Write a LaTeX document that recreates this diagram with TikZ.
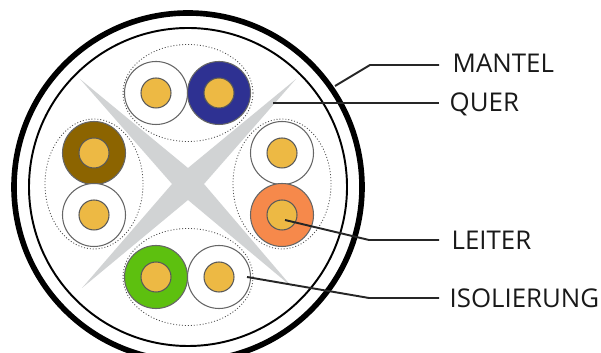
\documentclass[tikz,border=0pt]{standalone}
\usepackage{fontspec}
\setmainfont{Open Sans}
\definecolor{corecol}{HTML}{EDB944}
\definecolor{crosscol}{HTML}{D1D3D4}
\definecolor{bluecol}{HTML}{2E3192}
\definecolor{browncol}{HTML}{8C6400}
\definecolor{orangecol}{HTML}{F6894B}
\definecolor{greencol}{HTML}{5DC00F}
\tikzset{
	wire/.style={circle, draw=black!60, line width=0.3pt, minimum size=0.63cm, inner sep=0, fill=white},
	core/.style={circle, draw=black!65, line width=0.3pt, minimum size=0.3cm, inner sep=0, fill=corecol},
	pair/.style={draw=black!70, line width=0.24pt, dash pattern=on 0.28pt off 0.56pt},
	leader/.style={draw=black!85, line width=0.55pt},
	tag/.style={anchor=west, inner sep=0, font=\fontsize{7.35}{7.35}\selectfont, text=black!90}
}
\begin{document}
\begin{tikzpicture}
	\useasboundingbox (0, 0) rectangle (6.01, -3.53);
	% Mantel
	\begin{scope}
		\clip (0, 0) rectangle (6.01, -3.53);
		\draw[line width=1.6pt] (1.88, -1.87) circle (1.74);
		\draw[line width=0.55pt] (1.88, -1.87) circle (1.59);
	\end{scope}
	% Kreuz
	\fill[crosscol] (0.80, -0.79) -- (1.88, -1.68) -- (2.96, -0.79) -- (2.04, -1.84)
		-- (2.92, -2.87) -- (1.88, -2.00) -- (0.82, -2.88) -- (1.72, -1.84) -- cycle;
	% Paare
	\draw[pair] (1.88, -0.93) ellipse (0.65 and 0.485);
	\draw[pair] (1.88, -2.77) ellipse (0.65 and 0.485);
	\draw[pair] (0.94, -1.84) ellipse (0.49 and 0.65);
	\draw[pair] (2.82, -1.84) ellipse (0.49 and 0.65);
	% Adern
	\node[wire] (wirewhitea) at (1.56, -0.93) {};
	\node[wire, fill=bluecol] (wireblue) at (2.19, -0.93) {};
	\node[wire, fill=browncol] (wirebrown) at (0.94, -1.53) {};
	\node[wire] (wirewhiteb) at (0.94, -2.15) {};
	\node[wire] (wirewhitec) at (2.82, -1.53) {};
	\node[wire, fill=orangecol] (wireorange) at (2.82, -2.15) {};
	\node[wire, fill=greencol] (wiregreen) at (1.56, -2.77) {};
	\node[wire] (wirewhited) at (2.19, -2.77) {};
	\node[core] at (wirewhitea) {};
	\node[core] at (wireblue) {};
	\node[core] at (wirebrown) {};
	\node[core] at (wirewhiteb) {};
	\node[core] at (wirewhitec) {};
	\node[core] at (wireorange) {};
	\node[core] at (wiregreen) {};
	\node[core] at (wirewhited) {};
	% Beschriftung
	\node[tag] (mantel) at (4.52, -0.63) {MANTEL};
	\node[tag] (quer) at (4.49, -1.04) {QUER};
	\node[tag] (leiter) at (4.51, -2.40) {LEITER};
	\node[tag] (isolierung) at (4.49, -2.98) {ISOLIERUNG};
	\coordinate (mantelend) at (4.39, -0.65);
	\coordinate (querend) at (4.39, -1.03);
	\coordinate (leiterend) at (4.39, -2.40);
	\coordinate (isolend) at (4.39, -2.98);
	\coordinate (mantelstart) at (3.35, -0.86);
	\coordinate (querstart) at (2.73, -1.03);
	\coordinate (leiterstart) at (2.85, -2.20);
	\coordinate (isolstart) at (2.47, -2.77);
	\draw[leader] (mantelstart) -- (3.70, -0.65) -- (mantelend);
	\draw[leader] (querstart) -- (querend);
	\draw[leader] (leiterstart) -- (3.69, -2.40) -- (leiterend);
	\draw[leader] (isolstart) -- (3.69, -2.98) -- (isolend);
\end{tikzpicture}
\end{document}
